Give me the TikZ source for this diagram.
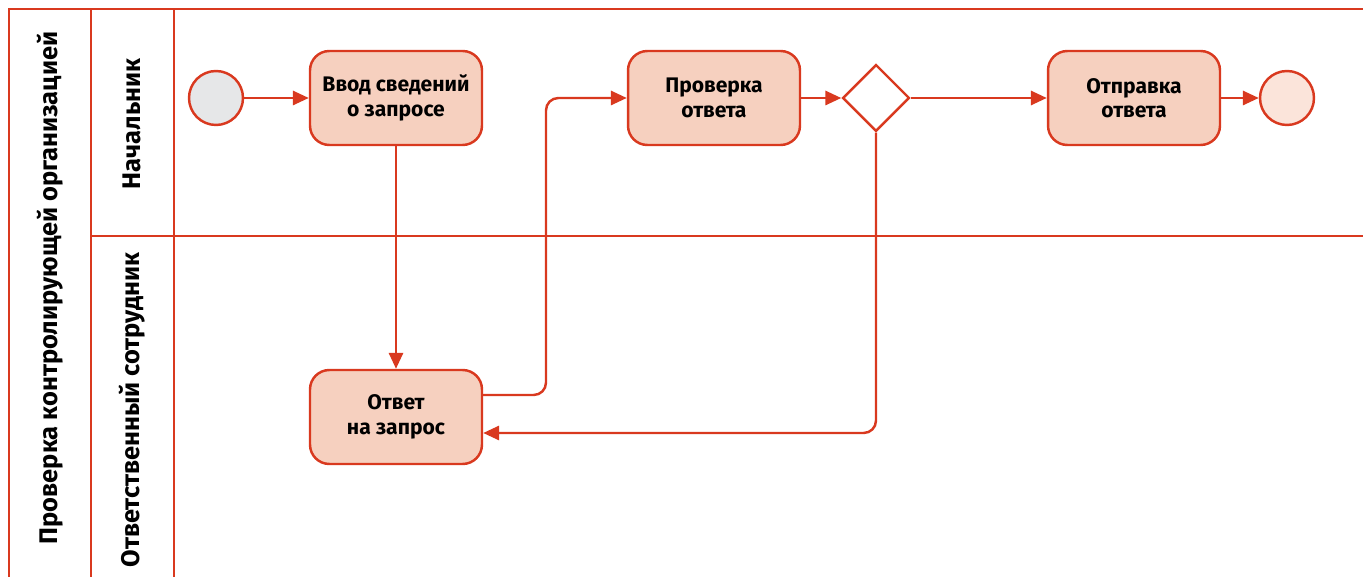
\documentclass[tikz,border=0pt]{standalone}
\usepackage{fontspec}
\setmainfont{Fira Sans}
\usetikzlibrary{arrows.meta,shapes.geometric}
\definecolor{lanered}{HTML}{D9391F}
\definecolor{taskfill}{HTML}{F6D0BF}
\definecolor{startfill}{HTML}{E6E7E8}
\definecolor{endfill}{HTML}{FBE4DA}
\tikzset{
  lane/.style={draw=lanered,line width=1.4pt},
  task/.style={draw=lanered,fill=taskfill,line width=1.4pt,rounded corners=11pt,
    minimum width=3.44cm,minimum height=1.88cm,align=center,
    font=\bfseries\fontsize{12}{14}\selectfont},
  event/.style={circle,draw=lanered,line width=1.4pt,minimum size=1.08cm,inner sep=0pt},
  gate/.style={diamond,draw=lanered,fill=white,line width=1.4pt,minimum width=1.34cm,
    minimum height=1.34cm,inner sep=0pt},
  flow/.style={draw=lanered,line width=1.4pt,-{Triangle[length=9pt,width=8pt]},rounded corners=7pt},
  lanelabel/.style={rotate=90,font=\bfseries\fontsize{14.5}{16}\selectfont}
}
\begin{document}
\begin{tikzpicture}[x=0.02cm,y=-0.02cm]
	\useasboundingbox (0,0) rectangle (1363,577);

	% draw lanes

	\draw[lane] (1363,9) -- (9,9) -- (9,577);
	\draw[lane] (91,9) -- (91,577);
	\draw[lane] (174,9) -- (174,577);
	\draw[lane] (91,236) -- (1363,236);

	\node[lanelabel] (pool) at (50,288) {Проверка контролирующей организацией};
	\node[lanelabel] (boss) at (132,124) {Начальник};
	\node[lanelabel] (clerk) at (132,410) {Ответственный сотрудник};

	% events, tasks and gateway

	\node[event,fill=startfill] (start) at (216,98) {};
	\node[task] (input) at (396,98) {Ввод сведений\\о запросе};
	\node[task] (check) at (714,98) {Проверка\\ответа};
	\node[gate] (decide) at (876,98) {};
	\node[task] (send) at (1134,98) {Отправка\\ответа};
	\node[event,fill=endfill] (stop) at (1287,98) {};
	\node[task] (answer) at (396,417) {Ответ\\на запрос};

	% sequence flows

	\draw[flow] (start) -- (input);
	\draw[flow] (input) -- (answer);
	\draw[flow] (answer.east |- 0,395) -| (546,98) -- (check.west);
	\draw[flow] (check) -- (decide);
	\draw[flow] (decide) -- (send);
	\draw[flow] (send) -- (stop);
	\draw[flow] (decide.south) |- (answer.east |- 0,433);

\end{tikzpicture}
\end{document}
